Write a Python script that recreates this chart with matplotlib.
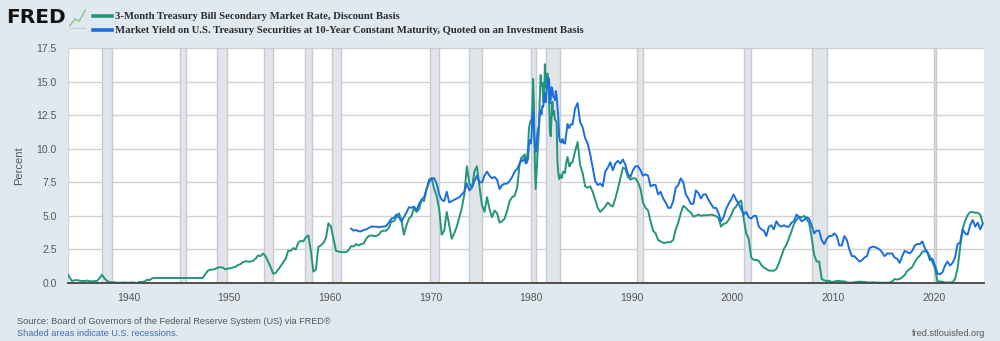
import numpy as np
import matplotlib
matplotlib.use("Agg")
import matplotlib.pyplot as plt
from matplotlib.lines import Line2D

# ---------------- data ----------------
# 3-Month T-bill (discount basis): quarterly 1934-1978, monthly 1979-1983, quarterly 1984-2024
tb3_q_early = [
    0.60, 0.15, 0.20, 0.22,   # 1934
    0.18, 0.15, 0.15, 0.18,   # 1935
    0.15, 0.12, 0.14, 0.15,   # 1936
    0.35, 0.62, 0.35, 0.15,   # 1937
    0.08, 0.05, 0.05, 0.03,   # 1938
    0.02, 0.02, 0.05, 0.02,   # 1939
    0.02, 0.05, 0.02, 0.02,   # 1940
    0.08, 0.08, 0.12, 0.25,   # 1941
    0.22, 0.36, 0.37, 0.375,  # 1942
    0.375, 0.375, 0.375, 0.375,  # 1943
    0.375, 0.375, 0.375, 0.375,  # 1944
    0.375, 0.375, 0.375, 0.375,  # 1945
    0.375, 0.375, 0.375, 0.375,  # 1946
    0.375, 0.375, 0.65, 0.90,    # 1947
    1.00, 1.00, 1.05, 1.15,   # 1948
    1.17, 1.16, 1.02, 1.08,   # 1949
    1.10, 1.16, 1.20, 1.34,   # 1950
    1.40, 1.55, 1.62, 1.60,   # 1951
    1.60, 1.65, 1.80, 2.05,   # 1952
    2.00, 2.20, 2.00, 1.60,   # 1953
    1.20, 0.70, 0.75, 1.00,   # 1954
    1.25, 1.55, 1.80, 2.40,   # 1955
    2.40, 2.60, 2.50, 3.00,   # 1956
    3.15, 3.10, 3.40, 3.55,   # 1957
    2.40, 0.85, 1.00, 2.70,   # 1958
    2.80, 3.00, 3.35, 4.45,   # 1959
    4.20, 3.30, 2.40, 2.35,   # 1960
    2.30, 2.30, 2.30, 2.45,   # 1961
    2.75, 2.72, 2.90, 2.80,   # 1962
    2.90, 2.95, 3.30, 3.50,   # 1963
    3.55, 3.50, 3.50, 3.60,   # 1964
    3.85, 3.90, 3.90, 4.10,   # 1965
    4.60, 4.60, 4.90, 5.20,   # 1966
    4.70, 3.60, 4.30, 4.80,   # 1967
    5.00, 5.60, 5.30, 5.50,   # 1968
    6.20, 6.10, 7.00, 7.50,   # 1969
    7.80, 7.00, 6.50, 5.50,   # 1970
    3.60, 3.90, 5.30, 4.30,   # 1971
    3.30, 3.70, 4.20, 4.90,   # 1972
    5.60, 6.60, 8.70, 7.40,   # 1973
    7.10, 8.30, 8.70, 7.20,   # 1974
    5.80, 5.30, 6.40, 5.50,   # 1975
    4.90, 5.40, 5.20, 4.50,   # 1976
    4.60, 4.80, 5.40, 6.10,   # 1977
    6.40, 6.50, 7.10, 8.90,   # 1978
]
tb3_m_mid = [
    9.35, 9.27, 9.46, 9.49, 9.58, 9.05, 9.26, 9.45, 10.18, 11.47, 11.87, 12.07,   # 1979
    12.04, 12.81, 15.20, 13.20, 9.15, 7.00, 8.13, 9.26, 10.32, 11.58, 13.89, 15.50,  # 1980
    14.72, 14.91, 13.48, 13.63, 16.30, 14.56, 14.70, 15.61, 14.95, 13.87, 11.27, 10.93,  # 1981
    12.41, 13.50, 12.49, 12.82, 12.15, 12.11, 11.91, 9.01, 8.20, 7.75, 8.04, 8.01,  # 1982
    7.81, 8.13, 8.30, 8.25, 8.19, 8.82, 9.12, 9.39, 9.05, 8.71, 8.71, 8.96,   # 1983
]
tb3_q_late = [
    9.00, 9.80, 10.50, 8.80,  # 1984
    8.20, 7.20, 7.10, 7.20,   # 1985
    6.80, 6.20, 5.60, 5.30,   # 1986
    5.50, 5.70, 6.00, 5.80,   # 1987
    5.70, 6.30, 7.00, 7.80,   # 1988
    8.60, 8.50, 7.90, 7.70,   # 1989
    7.80, 7.80, 7.50, 7.00,   # 1990
    6.00, 5.60, 5.40, 4.60,   # 1991
    3.90, 3.70, 3.20, 3.10,   # 1992
    3.00, 3.00, 3.05, 3.05,   # 1993
    3.20, 4.00, 4.50, 5.20,   # 1994
    5.75, 5.60, 5.40, 5.25,   # 1995
    4.95, 5.00, 5.10, 5.00,   # 1996
    5.05, 5.05, 5.05, 5.10,   # 1997
    5.05, 4.98, 4.85, 4.20,   # 1998
    4.40, 4.45, 4.70, 5.05,   # 1999
    5.50, 5.70, 6.00, 6.15,   # 2000
    4.80, 3.70, 3.30, 1.90,   # 2001
    1.72, 1.72, 1.65, 1.35,   # 2002
    1.15, 1.05, 0.93, 0.92,   # 2003
    0.92, 1.05, 1.48, 2.00,   # 2004
    2.55, 2.85, 3.35, 3.85,   # 2005
    4.40, 4.70, 4.95, 4.90,   # 2006
    5.00, 4.75, 4.50, 3.40,   # 2007
    2.10, 1.60, 1.60, 0.30,   # 2008
    0.20, 0.15, 0.17, 0.06,   # 2009
    0.12, 0.15, 0.15, 0.13,   # 2010
    0.12, 0.04, 0.03, 0.02,   # 2011
    0.05, 0.09, 0.10, 0.09,   # 2012
    0.08, 0.05, 0.03, 0.06,   # 2013
    0.04, 0.03, 0.03, 0.02,   # 2014
    0.03, 0.02, 0.03, 0.12,   # 2015
    0.30, 0.26, 0.30, 0.43,   # 2016
    0.60, 0.90, 1.04, 1.20,   # 2017
    1.56, 1.85, 2.04, 2.32,   # 2018
    2.39, 2.30, 1.98, 1.58,   # 2019
    1.10, 0.14, 0.12, 0.09,   # 2020
    0.05, 0.03, 0.05, 0.05,   # 2021
    0.31, 1.08, 2.63, 4.00,   # 2022
    4.63, 5.07, 5.28, 5.28,   # 2023
    5.23, 5.24, 5.10, 4.45,   # 2024
]

# 10-Year constant maturity yield: quarterly 1962-1978, monthly 1979-1983, quarterly 1984-2024
gs10_q_early = [
    4.05, 3.90, 3.95, 3.85,   # 1962
    3.85, 3.95, 4.00, 4.10,   # 1963
    4.20, 4.20, 4.20, 4.15,   # 1964
    4.20, 4.20, 4.25, 4.50,   # 1965
    4.80, 4.85, 5.10, 4.90,   # 1966
    4.60, 4.90, 5.25, 5.65,   # 1967
    5.60, 5.70, 5.40, 5.90,   # 1968
    6.20, 6.40, 7.00, 7.70,   # 1969
    7.80, 7.80, 7.40, 6.60,   # 1970
    6.20, 6.10, 6.80, 6.00,   # 1971
    6.10, 6.20, 6.30, 6.40,   # 1972
    6.60, 6.80, 7.40, 6.90,   # 1973
    7.10, 7.60, 8.00, 7.50,   # 1974
    7.50, 8.00, 8.30, 8.00,   # 1975
    7.80, 7.90, 7.70, 7.00,   # 1976
    7.30, 7.40, 7.40, 7.60,   # 1977
    7.90, 8.30, 8.50, 8.90,   # 1978
]
gs10_m_mid = [
    9.10, 9.10, 9.12, 9.18, 9.25, 8.91, 8.95, 9.03, 9.33, 10.30, 10.65, 10.39,  # 1979
    10.80, 12.41, 12.75, 11.47, 10.18, 9.78, 10.25, 11.10, 11.51, 11.75, 12.68, 12.84,  # 1980
    12.57, 13.19, 13.12, 13.68, 14.10, 13.47, 14.28, 14.94, 15.32, 15.15, 13.39, 13.72,  # 1981
    14.59, 14.43, 13.86, 13.87, 13.62, 14.30, 13.95, 13.06, 12.34, 10.91, 10.55, 10.54,  # 1982
    10.46, 10.72, 10.51, 10.40, 10.38, 10.85, 11.38, 11.85, 11.65, 11.54, 11.69, 11.83,  # 1983
]
gs10_q_late = [
    11.80, 13.00, 13.40, 12.00,  # 1984
    11.60, 10.80, 10.40, 9.60,   # 1985
    8.60, 7.60, 7.30, 7.40,   # 1986
    7.20, 8.30, 8.60, 9.00,   # 1987
    8.40, 8.90, 9.10, 8.90,   # 1988
    9.20, 8.80, 8.10, 7.90,   # 1989
    8.40, 8.70, 8.70, 8.40,   # 1990
    8.00, 8.10, 8.00, 7.20,   # 1991
    7.30, 7.30, 6.60, 6.80,   # 1992
    6.30, 6.00, 5.60, 5.60,   # 1993
    6.10, 7.10, 7.30, 7.80,   # 1994
    7.50, 6.60, 6.30, 5.90,   # 1995
    5.90, 6.90, 6.70, 6.30,   # 1996
    6.60, 6.60, 6.20, 5.90,   # 1997
    5.60, 5.60, 5.20, 4.60,   # 1998
    4.90, 5.50, 5.90, 6.20,   # 1999
    6.60, 6.20, 5.90, 5.50,   # 2000
    5.10, 5.30, 4.90, 4.80,   # 2001
    5.00, 5.00, 4.20, 4.00,   # 2002
    3.90, 3.50, 4.20, 4.30,   # 2003
    4.00, 4.60, 4.30, 4.20,   # 2004
    4.30, 4.20, 4.20, 4.50,   # 2005
    4.60, 5.10, 4.90, 4.60,   # 2006
    4.70, 4.90, 4.80, 4.30,   # 2007
    3.70, 3.90, 3.90, 3.20,   # 2008
    2.90, 3.30, 3.50, 3.50,   # 2009
    3.70, 3.50, 2.80, 2.80,   # 2010
    3.50, 3.20, 2.50, 2.00,   # 2011
    2.00, 1.80, 1.60, 1.70,   # 2012
    1.90, 2.00, 2.60, 2.70,   # 2013
    2.70, 2.60, 2.50, 2.30,   # 2014
    2.00, 2.20, 2.20, 2.20,   # 2015
    1.90, 1.80, 1.50, 2.00,   # 2016
    2.40, 2.30, 2.20, 2.40,   # 2017
    2.80, 2.90, 2.90, 3.10,   # 2018
    2.60, 2.30, 1.70, 1.80,   # 2019
    1.30, 0.70, 0.65, 0.80,   # 2020
    1.30, 1.60, 1.30, 1.50,   # 2021
    1.90, 2.90, 3.00, 4.00,   # 2022
    3.70, 3.60, 4.30, 4.70,   # 2023
    4.20, 4.50, 4.00, 4.40,   # 2024
]

recession_starts = [1937.33, 1945.08, 1948.83, 1953.50, 1957.58, 1960.25, 1969.92,
                    1973.83, 1980.00, 1981.50, 1990.50, 2001.17, 2007.92, 2020.08]
recession_ends = [1938.42, 1945.75, 1949.75, 1954.33, 1958.25, 1961.08, 1970.83,
                  1975.17, 1980.50, 1982.83, 1991.17, 2001.83, 2009.42, 2020.25]

y_ticks = [0.0, 2.5, 5.0, 7.5, 10.0, 12.5, 15.0, 17.5]
x_ticks = [1940, 1950, 1960, 1970, 1980, 1990, 2000, 2010, 2020]

label_tb3 = "3-Month Treasury Bill Secondary Market Rate, Discount Basis"
label_gs10 = ("Market Yield on U.S. Treasury Securities at 10-Year Constant Maturity, "
              "Quoted on an Investment Basis")


def build_dates(start_q_year, n_q1, n_m, n_q2):
    """Time index for quarterly / monthly / quarterly segments (mid-period)."""
    d1 = start_q_year + (np.arange(n_q1) + 0.5) / 4.0
    d2 = 1979.0 + (np.arange(n_m) + 0.5) / 12.0
    d3 = 1984.0 + (np.arange(n_q2) + 0.5) / 4.0
    return np.concatenate([d1, d2, d3])


tb3_x = build_dates(1934.0, len(tb3_q_early), len(tb3_m_mid), len(tb3_q_late))
tb3_y = np.array(tb3_q_early + tb3_m_mid + tb3_q_late)
gs10_x = build_dates(1962.0, len(gs10_q_early), len(gs10_m_mid), len(gs10_q_late))
gs10_y = np.array(gs10_q_early + gs10_m_mid + gs10_q_late)

# start of the T-bill series at the left edge
tb3_x[0] = 1934.02

# ---------------- style ----------------
BG = "#e1e9f0"
GREEN = "#23957a"
BLUE = "#1a6ee0"
TXT = "#555555"
SANS = "Liberation Sans"

fig = plt.figure(figsize=(10, 3.41), dpi=100, facecolor=BG)
ax = fig.add_axes([0.068, 0.170, 0.916, 0.689])
ax.set_facecolor("white")

for s, e in zip(recession_starts, recession_ends):
    ax.axvspan(s, e, facecolor="#e1e5ea", edgecolor="#c6cbd1", linewidth=1.0, zorder=1)

ax.plot(tb3_x, tb3_y, color=GREEN, lw=1.4, zorder=3, solid_joinstyle="round")
ax.plot(gs10_x, gs10_y, color=BLUE, lw=1.4, zorder=4, solid_joinstyle="round")

ax.set_xlim(1934.0, 2025.0)
ax.set_ylim(0, 17.5)
ax.set_yticks(y_ticks)
ax.set_yticklabels([f"{v:.1f}" for v in y_ticks], family=SANS)
ax.set_xticks(x_ticks)
ax.set_xticklabels([str(v) for v in x_ticks], family=SANS)
ax.yaxis.grid(True, color="#d2d2d2", lw=1.0, zorder=0)
ax.set_axisbelow(True)
ax.tick_params(axis="both", length=0, labelsize=7.5, labelcolor=TXT)
ax.tick_params(axis="y", pad=8)
ax.tick_params(axis="x", pad=7)
for k in ["top", "right"]:
    ax.spines[k].set_visible(False)
ax.spines["left"].set_color("#d2d2d2")
ax.spines["bottom"].set_color("#444444")
ax.spines["bottom"].set_linewidth(1.3)
ax.spines["bottom"].set_zorder(5)
ax.set_ylabel("Percent", fontsize=8, color=TXT, labelpad=9, family=SANS)

# ---------------- header ----------------
fig.text(0.006, 0.950, "FRED", fontsize=14.5, fontweight="bold", color="#111111",
         family="DejaVu Sans", va="center", ha="left")
# small logo icon
icon = fig.add_axes([0.069, 0.915, 0.017, 0.065])
icon.axis("off")
icon.set_xlim(0, 1)
icon.set_ylim(0, 1)
icon.plot([0.05, 0.35, 0.6, 0.95], [0.15, 0.45, 0.35, 0.85], color="#9cc59a", lw=1.2)
icon.plot([0.05, 0.95], [0.05, 0.05], color="#b8d6b5", lw=1.0)

fig.add_artist(Line2D([0.093, 0.112], [0.953, 0.953], color=GREEN, lw=2.6,
                      transform=fig.transFigure))
fig.add_artist(Line2D([0.093, 0.112], [0.912, 0.912], color=BLUE, lw=2.6,
                      transform=fig.transFigure))
fig.text(0.115, 0.953, label_tb3, fontsize=7.7, fontweight="bold", family="Liberation Serif",
         color="#2b2b2b", va="center", ha="left")
fig.text(0.115, 0.912, label_gs10, fontsize=7.7, fontweight="bold", family="Liberation Serif",
         color="#2b2b2b", va="center", ha="left")

# ---------------- footer ----------------
fig.text(0.017, 0.056, "Source: Board of Governors of the Federal Reserve System (US) via FRED\u00ae",
         fontsize=6.6, color="#555555", va="center", ha="left", family=SANS)
fig.text(0.017, 0.023, "Shaded areas indicate U.S. recessions.",
         fontsize=6.6, color="#3b6fb3", va="center", ha="left", family=SANS)
fig.text(0.985, 0.023, "fred.stlouisfed.org", fontsize=6.6, color="#555555",
         va="center", ha="right", family=SANS)

fig.savefig("out.png", dpi=100, facecolor=BG)
